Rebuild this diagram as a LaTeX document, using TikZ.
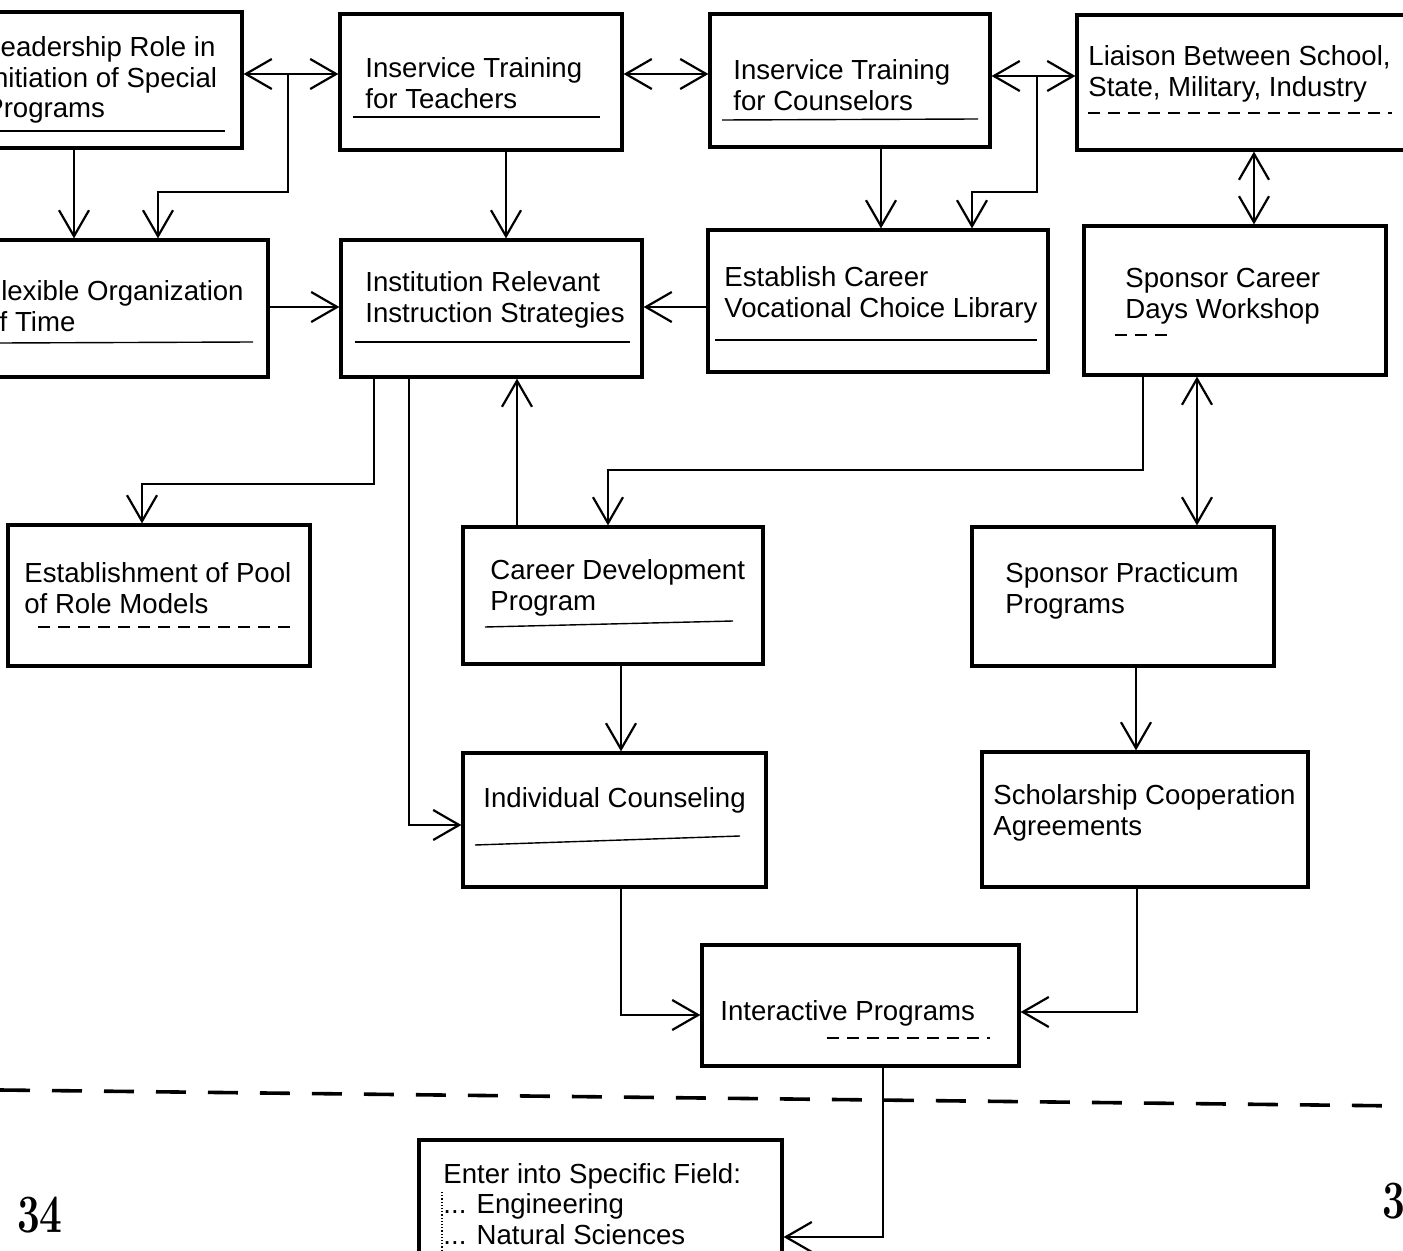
\documentclass[tikz,border=0pt]{standalone}
\usepackage{fontspec}
\setsansfont{Liberation Sans}
\usepackage{graphicx}
\usepackage{tikz}
\usetikzlibrary{arrows.meta, positioning, calc, fit}

\begin{document}
\begin{tikzpicture}[x=0.5pt, y=-0.5pt,
    box/.style={draw, line width=1.6pt, inner sep=0pt},
    lbl/.style={anchor=west, align=left, inner sep=0pt, font=\sffamily\fontsize{13.8}{15.4}\selectfont},
    link/.style={-{Straight Barb[length=13pt,width=15pt]}, line width=1.1pt},
    both/.style={{Straight Barb[length=13pt,width=15pt]}-{Straight Barb[length=13pt,width=15pt]}, line width=1.1pt},
    uline/.style={line width=0.7pt},
    faint/.style={line width=0.6pt, dash pattern=on 6pt off 4pt},
    sep/.style={line width=1.8pt, dash pattern=on 15pt off 11pt},
    pnum/.style={font=\rmfamily\bfseries\fontsize{27}{27}\selectfont, inner sep=0pt}
]
    \useasboundingbox (0,0) rectangle (1403,1251);

    % boxes
    \node (lead) [box, fit={(-40,12) (242,148)}] {};
    \node (teach) [box, fit={(340,14) (622,150)}] {};
    \node (couns) [box, fit={(710,14) (990,147)}] {};
    \node (liais) [box, fit={(1077,15) (1440,150)}] {};
    \node (flex) [box, fit={(-40,240) (268,377)}] {};
    \node (inst) [box, fit={(341,240) (642,377)}] {};
    \node (lib) [box, fit={(708,230) (1048,372)}] {};
    \node (days) [box, fit={(1084,226) (1386,375)}] {};
    \node (pool) [box, fit={(8,525) (310,666)}] {};
    \node (cdp) [box, fit={(463,527) (763,664)}] {};
    \node (prac) [box, fit={(972,527) (1274,666)}] {};
    \node (indiv) [box, fit={(463,753) (766,887)}] {};
    \node (schol) [box, fit={(982,752) (1308,887)}] {};
    \node (inter) [box, fit={(702,945) (1019,1066)}] {};
    \node (enter) [box, fit={(419,1140) (782,1300)}] {};

    % texts
    \node (lead_t) [lbl] at (-15,80) {Leadership Role in\\Initiation of Special\\Programs};
    \node (teach_t) [lbl] at (365,83) {Inservice Training\\for Teachers};
    \node (couns_t) [lbl] at (733,85) {Inservice Training\\for Counselors};
    \node (liais_t) [lbl] at (1088,74) {Liaison Between School,\\State, Military, Industry};
    \node (flex_t) [lbl] at (-16,306) {Flexible Organization\\of Time};
    \node (inst_t) [lbl] at (365,300) {Institution Relevant\\Instruction Strategies};
    \node (lib_t) [lbl] at (724,295) {Establish Career\\Vocational Choice Library};
    \node (days_t) [lbl] at (1125,296) {Sponsor Career\\Days Workshop};
    \node (pool_t) [lbl] at (24,588) {Establishment of Pool\\of Role Models};
    \node (cdp_t) [lbl] at (490,588) {Career Development\\Program};
    \node (prac_t) [lbl] at (1005,591) {Sponsor Practicum\\Programs};
    \node (indiv_t) [lbl] at (483,800) {Individual Counseling};
    \node (schol_t) [lbl] at (993,813) {Scholarship Cooperation\\Agreements};
    \node (inter_t) [lbl] at (720,1013) {Interactive Programs};
    \node (enter_t) [lbl] at (443,1204) {Enter into Specific Field:\\... Engineering\\... Natural Sciences};

    % underlines
    \draw[uline] (0,131) -- (225,131);
    \draw[uline] (353,117) -- (600,117);
    \draw[uline] (722,120) -- (978,119);
    \draw[faint] (1088,113) -- (1392,113);
    \draw[uline] (0,343) -- (253,342);
    \draw[uline] (355,342) -- (630,342);
    \draw[uline] (715,340) -- (1037,340);
    \draw[faint] (1115,335) -- (1170,335);
    \draw[faint] (38,627) -- (295,627);
    \draw[uline] (485,627) -- (733,621);
    \draw[uline] (475,845) -- (740,836);
    \draw[faint] (827,1038) -- (990,1038);
    \draw[densely dotted, line width=0.6pt] (442,1192) -- (442,1251);

    % connectors
    \draw[both] (lead.east |- 0,74) -- (teach.west |- 0,74);
    \coordinate (j1) at (288,74);
    \draw[link] (j1) |- (158,192) -- (158,0 |- flex.north);
    \draw[link] (74,0 |- lead.south) -- (74,0 |- flex.north);
    \draw[both] (teach.east |- 0,74) -- (couns.west |- 0,74);
    \draw[both] (couns.east |- 0,76) -- (liais.west |- 0,76);
    \coordinate (j2) at (1037,76);
    \draw[link] (j2) |- (972,192) -- (972,0 |- lib.north);
    \draw[link] (881,0 |- couns.south) -- (881,0 |- lib.north);
    \draw[link] (506,0 |- teach.south) -- (506,0 |- inst.north);
    \draw[link] (flex.east |- 0,307) -- (inst.west |- 0,307);
    \draw[link] (lib.west |- 0,307) -- (inst.east |- 0,307);
    \draw[both] (1254,0 |- liais.south) -- (1254,0 |- days.north);
    \draw[link] (374,0 |- inst.south) |- (142,484) -- (142,0 |- pool.north);
    \draw[link] (409,0 |- inst.south) |- (indiv.west |- 0,825);
    \draw[link] (517,0 |- cdp.north) -- (517,0 |- inst.south);
    \draw[link] (1143,0 |- days.south) |- (608,470) -- (608,0 |- cdp.north);
    \draw[both] (1197,0 |- days.south) -- (1197,0 |- prac.north);
    \draw[link] (621,0 |- cdp.south) -- (621,0 |- indiv.north);
    \draw[link] (1136,0 |- prac.south) -- (1136,0 |- schol.north);
    \draw[link] (621,0 |- indiv.south) |- (inter.west |- 0,1015);
    \draw[link] (1137,0 |- schol.south) |- (inter.east |- 0,1012);
    \draw[link] (883,0 |- inter.south) |- (enter.east |- 0,1237);

    % separator and page numbers
    \draw[sep] (0,1090) -- (1403,1106);
    \node (pg_l) [pnum] at (40,1215) {\scalebox{0.75}[1]{34}};
    \node (pg_r) [pnum, anchor=west] at (1382,1201) {\scalebox{0.75}[1]{3}};
\end{tikzpicture}
\end{document}
